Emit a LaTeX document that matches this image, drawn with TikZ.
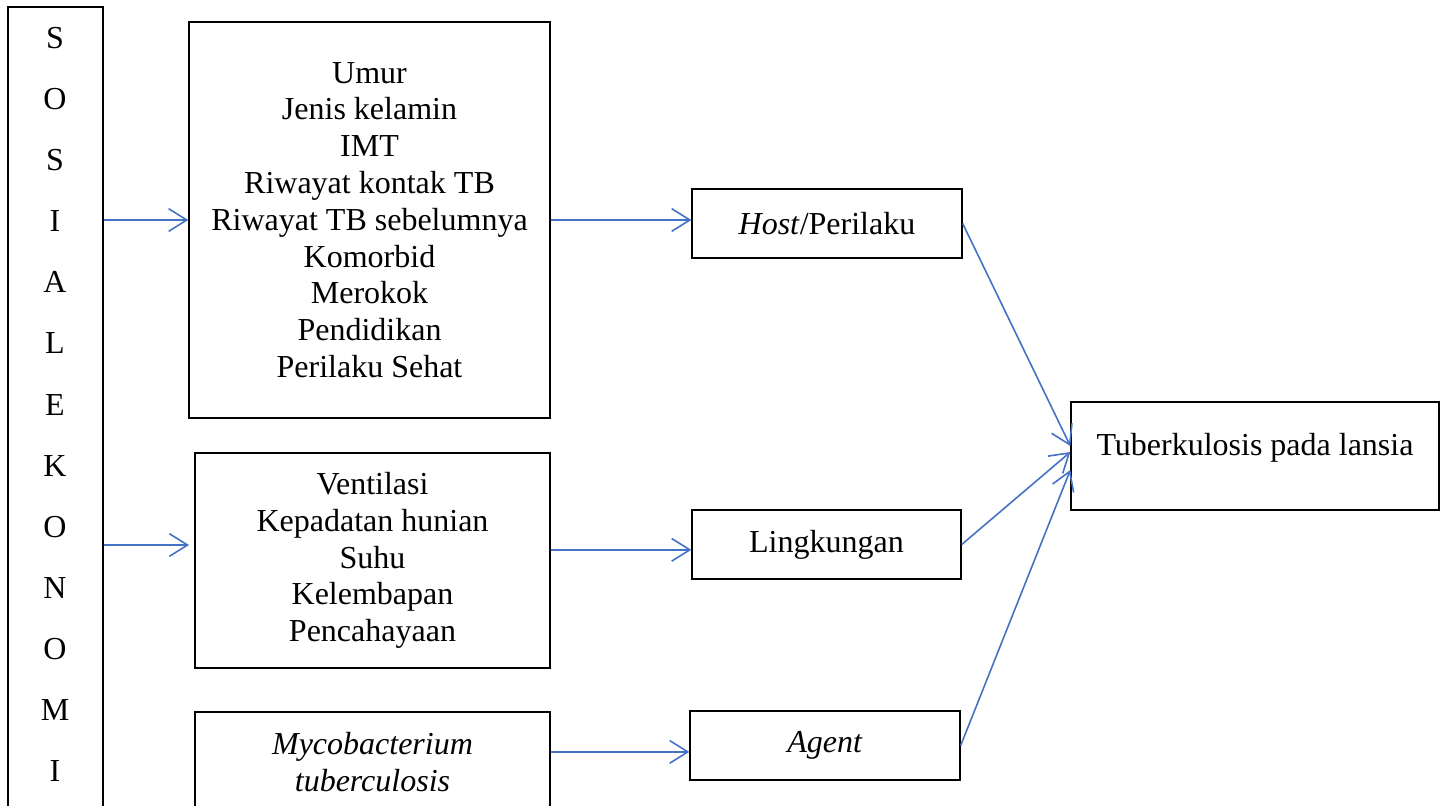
\documentclass[tikz,border=0pt]{standalone}
\usepackage{fontspec}
\setmainfont{Liberation Serif}
\usepackage{xcolor}
\usetikzlibrary{arrows.meta}
\definecolor{arrowblue}{RGB}{68,114,196}

\begin{document}
\begin{tikzpicture}[x=0.375pt,y=0.375pt,yscale=-1,xscale=1,
    box/.style={draw,line width=0.5pt,inner sep=0pt,align=center,font=\fontsize{12}{13.8}\selectfont},
    arr/.style={draw=arrowblue,line width=0.6pt,-{Straight Barb[length=6.8pt,width=8.5pt]}}]
    \clip (0,0) rectangle (1448,805);
    % Social economy column
    \node[box,minimum width=35.6pt,minimum height=312.4pt] (sosek) at (55.5,423.5) {};
    \foreach \ch [count=\i from 0] in {S,O,S,I,A,L,E,K,O,N,O,M,I}
        \node[font=\fontsize{12}{13.8}\selectfont,inner sep=0pt] (l\i) at (55,38+61.1*\i) {\ch};
    % Factor boxes
    \node[box,minimum width=135.4pt,minimum height=148.5pt] (hostf) at (369.5,220)
        {Umur\\Jenis kelamin\\IMT\\Riwayat kontak TB\\Riwayat TB sebelumnya\\Komorbid\\Merokok\\Pendidikan\\Perilaku Sehat};
    \node[box,minimum width=133.1pt,minimum height=80.6pt] (lingf) at (372.5,560.5)
        {Ventilasi\\Kepadatan hunian\\Suhu\\Kelembapan\\Pencahayaan};
    \node[box,minimum width=133.1pt,minimum height=37.5pt] (agentf) at (372.5,762)
        {\textit{Mycobacterium}\\\textit{tuberculosis}};
    % Triad boxes
    \node[box,minimum width=101.25pt,minimum height=25.9pt] (host) at (827,223.5) {\textit{Host}/Perilaku};
    \node[box,minimum width=100.9pt,minimum height=25.9pt] (ling) at (826.5,544.5) {Lingkungan};
    \node[box,minimum width=101.25pt,minimum height=25.9pt] (agent) at (825,745.5) {\textit{Agent}};
    \node[box,minimum width=138pt,minimum height=40.5pt,text depth=8.5pt] (tb) at (1255,456) {Tuberkulosis pada lansia};
    % Arrows
    \coordinate (k2) at (189,545);
    \coordinate (lin) at ([yshift=2pt]ling.west);
    \coordinate (agin) at ([yshift=2.4pt]agent.west);
    \draw[arr] (hostf.west -| sosek.east) -- (hostf.west);
    \draw[arr] (k2 -| sosek.east) -- (k2);
    \draw[arr] (hostf.east) -- (hostf.east -| host.west);
    \draw[arr] (lin -| lingf.east) -- (lin);
    \draw[arr] (agin -| agentf.east) -- (agin);
    \draw[arr] (host.east) -- ([yshift=-3.75pt]tb.west);
    \draw[arr] (ling.east) -- ([yshift=-1.5pt]tb.west);
    \draw[arr] (agent.east) -- ([yshift=5.25pt]tb.west);
\end{tikzpicture}
\end{document}
